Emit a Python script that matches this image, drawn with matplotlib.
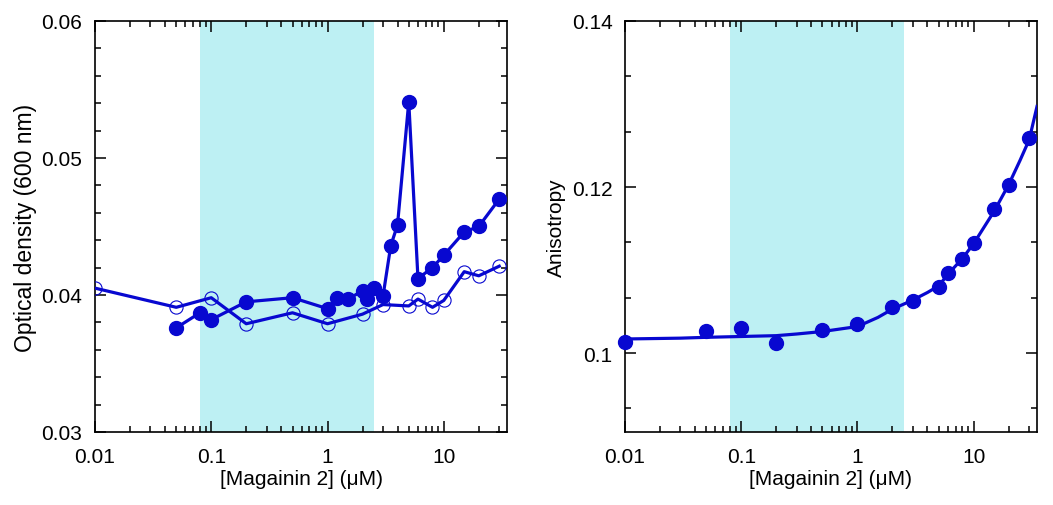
import matplotlib
matplotlib.use("Agg")
import matplotlib.pyplot as plt
from matplotlib.ticker import MultipleLocator, LogLocator, NullFormatter, FixedLocator, FixedFormatter

plt.rcParams["font.family"] = ["Liberation Sans", "DejaVu Sans"]

blue = "#0808d0"
shade = "#bdf0f3"

# optical density, filled circles
od_x_filled = [0.05, 0.08, 0.1, 0.2, 0.5, 1.0, 1.2, 1.5, 2.0, 2.2, 2.5, 3.0, 3.5, 4.0, 5.0, 6.0, 8.0, 10.0, 15.0, 20.0, 30.0]
od_y_filled = [0.0376, 0.0387, 0.0382, 0.0395, 0.0398, 0.0390, 0.0398, 0.0397, 0.0403, 0.0397, 0.0405, 0.0399, 0.0436, 0.0451, 0.0541, 0.0412, 0.0420, 0.0429, 0.0446, 0.0450, 0.0470]

# optical density, open circles
od_x_open = [0.01, 0.05, 0.1, 0.2, 0.5, 1.0, 2.0, 3.0, 5.0, 6.0, 8.0, 10.0, 15.0, 20.0, 30.0]
od_y_open = [0.0405, 0.0391, 0.0398, 0.0379, 0.0387, 0.0379, 0.0386, 0.0393, 0.0392, 0.0397, 0.0391, 0.0396, 0.0417, 0.0414, 0.0421]

# anisotropy points
an_x = [0.01, 0.05, 0.1, 0.2, 0.5, 1.0, 2.0, 3.0, 5.0, 6.0, 8.0, 10.0, 15.0, 20.0, 30.0]
an_y = [0.1013, 0.1027, 0.1030, 0.1012, 0.1028, 0.1035, 0.1055, 0.1063, 0.1080, 0.1096, 0.1113, 0.1133, 0.1173, 0.1203, 0.1259]

# fitted curve
fit_x = [0.01, 0.03, 0.05, 0.1, 0.2, 0.3, 0.5, 1.0, 1.5, 2.0, 2.5, 3.0, 4.0, 5.0, 6.0, 8.0, 10.0, 15.0, 20.0, 25.0, 30.0, 35.0]
fit_y = [0.1017, 0.1018, 0.1019, 0.1020, 0.1021, 0.1023, 0.1026, 0.1032, 0.1043, 0.1053, 0.1059, 0.1064, 0.1073, 0.1081, 0.1095, 0.1114, 0.1132, 0.1171, 0.1203, 0.1232, 0.1257, 0.1297]

band = (0.08, 2.5)
xticks = [0.01, 0.1, 1, 10]
xticklabels = ["0.01", "0.1", "1", "10"]

fig = plt.figure(figsize=(10.53, 5.06), dpi=100)
ax1 = fig.add_axes([0.0902, 0.1443, 0.3913, 0.8123])
ax2 = fig.add_axes([0.5935, 0.1443, 0.3913, 0.8123])


def style(ax):
    ax.set_xscale("log")
    ax.set_xlim(0.01, 35)
    ax.axvspan(band[0], band[1], color=shade, lw=0, zorder=0)
    ax.xaxis.set_major_locator(FixedLocator(xticks))
    ax.xaxis.set_major_formatter(FixedFormatter(xticklabels))
    ax.xaxis.set_minor_locator(LogLocator(base=10, subs=range(2, 10), numticks=20))
    ax.xaxis.set_minor_formatter(NullFormatter())
    ax.tick_params(which="both", direction="in", top=True, right=True, labelsize=15, width=1.1)
    ax.tick_params(which="major", length=8, pad=9)
    ax.tick_params(axis="x", which="major", pad=11)
    ax.tick_params(which="minor", length=4)
    for s in ax.spines.values():
        s.set_linewidth(1.2)
    ax.set_xlabel("[Magainin 2] (\u03bcM)", fontsize=15, labelpad=2)


style(ax1)
ax1.plot(od_x_open, od_y_open, "-", color=blue, lw=2.3, marker="o", ms=9.5,
         mfc="none", mec=blue, mew=0.8, zorder=3)
ax1.plot(od_x_filled, od_y_filled, "-", color=blue, lw=2.3, marker="o", ms=10,
         mfc=blue, mec=blue, zorder=4)
ax1.set_ylim(0.03, 0.06)
ax1.yaxis.set_major_locator(MultipleLocator(0.01))
ax1.yaxis.set_minor_locator(MultipleLocator(0.002))
ax1.set_ylabel("Optical density (600 nm)", fontsize=16.5, labelpad=3)

style(ax2)
ax2.plot(fit_x, fit_y, "-", color=blue, lw=2.3, zorder=3)
ax2.plot(an_x, an_y, "o", color=blue, ms=10, zorder=4, clip_on=False)
ax2.set_ylim(0.0905, 0.14)
ax2.yaxis.set_major_locator(FixedLocator([0.1, 0.12, 0.14]))
ax2.yaxis.set_major_formatter(FixedFormatter(["0.1", "0.12", "0.14"]))
ax2.yaxis.set_minor_locator(MultipleLocator(0.02 / 3))
ax2.set_ylabel("Anisotropy", fontsize=15, labelpad=4)

fig.savefig("out.png", dpi=100)
